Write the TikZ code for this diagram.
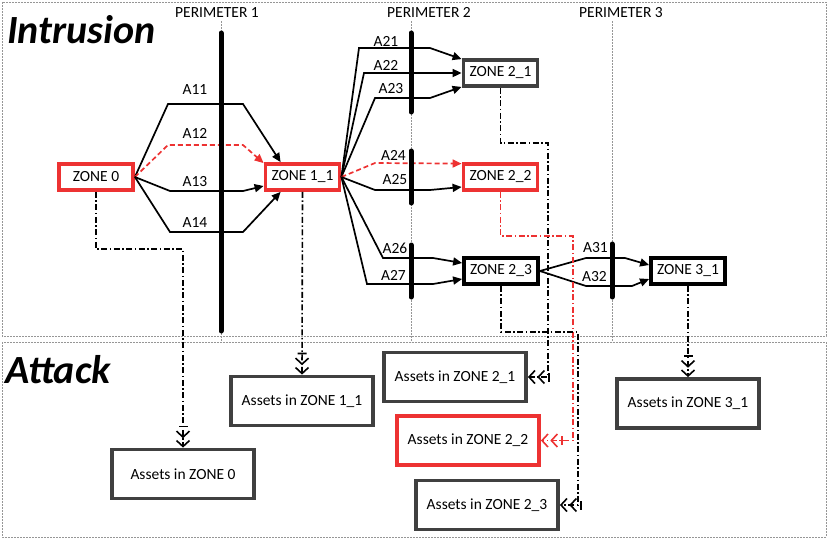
\documentclass[tikz,border=0pt]{standalone}
\usepackage{fontspec}
\setmainfont{Carlito}
\usetikzlibrary{arrows.meta,calc,shadows}
\definecolor{zred}{RGB}{237,50,50}
\definecolor{zgray}{RGB}{64,64,64}
\definecolor{fgray}{RGB}{150,150,150}
\begin{document}
\begin{tikzpicture}[x=1pt,y=-1pt,
  txt/.style={font=\fontsize{15.5}{18}\selectfont, inner sep=0pt},
  title/.style={font=\fontsize{40}{44}\selectfont\bfseries\itshape, inner sep=0pt, anchor=base west},
  zonebox/.style={draw, line width=3.8pt, fill=white, minimum width=74pt, minimum height=26pt, inner sep=0pt,
    font=\fontsize{15.5}{18}\selectfont, drop shadow={shadow xshift=1.5pt,shadow yshift=-1.5pt,opacity=0.25}},
  assetbox/.style={zonebox, draw=zgray, minimum width=142pt, minimum height=49pt},
  intr/.style={line width=1.7pt, -{Triangle[length=9pt,width=8pt]}},
  reddash/.style={intr, draw=zred, dash pattern=on 5pt off 3pt},
  att/.style={line width=1.6pt, dash pattern=on 6pt off 2.5pt on 1.5pt off 2.5pt,
    -{Bar[width=9pt,sep=3pt] Straight Barb[length=6pt,width=13pt,sep=1.5pt] Straight Barb[length=6pt,width=13pt]}},
  frame/.style={draw=fgray, line width=0.7pt, dash pattern=on 2pt off 1pt},
  barrier/.style={line width=5pt, line cap=round},
]
\useasboundingbox (0,0) rectangle (828,539);
% frames
\draw[frame] (2,2) rectangle (826,336);
\draw[frame] (2,342) rectangle (826,537);
% perimeter lines
\coordinate (p1t) at (221,21); \coordinate (p1b) at (221,342);
\coordinate (p2t) at (411,21); \coordinate (p2b) at (411,342);
\coordinate (p3t) at (612,21); \coordinate (p3b) at (612,342);
\draw[frame] (p1t) -- (p1b);
\draw[frame] (p2t) -- (p2b);
\draw[frame] (p3t) -- (p3b);
\node[txt, anchor=base] (per1) at (217,17.5) {PERIMETER 1};
\node[txt, anchor=base] (per2) at (429,17.5) {PERIMETER 2};
\node[txt, anchor=base] (per3) at (621,17.5) {PERIMETER 3};
% titles
\node[title] (tintr) at (7,43) {Intrusion};
\node[title] (tatt) at (5,383) {Attack};
% zones
\node[zonebox, draw=zred] (z0) at (96,177) {ZONE 0};
\node[zonebox, draw=zred] (z11) at (302.5,177) {ZONE 1\_1};
\node[zonebox, draw=zgray] (z21) at (500.5,73) {ZONE 2\_1};
\node[zonebox, draw=zred] (z22) at (500.5,177) {ZONE 2\_2};
\node[zonebox, draw=black] (z23) at (501,271) {ZONE 2\_3};
\node[zonebox, draw=black] (z31) at (688,271) {ZONE 3\_1};
% assets
\node[assetbox] (a0) at (183,474) {Assets in ZONE 0};
\node[assetbox] (a11) at (302,401) {Assets in ZONE 1\_1};
\node[assetbox] (a21) at (455,377) {Assets in ZONE 2\_1};
\node[assetbox, draw=zred] (a22) at (468,440.5) {Assets in ZONE 2\_2};
\node[assetbox] (a23) at (487,505) {Assets in ZONE 2\_3};
\node[assetbox] (a31) at (688,403.5) {Assets in ZONE 3\_1};
% intrusion paths zone 0 -> zone 1_1
\draw[intr] (z0.east) -- (168,104) -- (243,104) -- ([xshift=17pt]z11.north west);
\draw[reddash] (z0.east) -- (168,145) -- (243,145) -- ([yshift=-1pt]z11.north west);
\draw[intr] (z0.east) -- (170,191) -- (243,191) -- ([yshift=-9pt]z11.west);
\draw[intr] (z0.east) -- (170,232) -- (243,232) -- ([xshift=17pt]z11.south west);
% zone 1_1 -> zone 2_x
\draw[intr] (z11.east) -- (359,48) -- (430,48) -- ([yshift=-1pt]z21.north west);
\draw[intr] (z11.east) -- (364,73) -- (z21.west);
\draw[intr] (z11.east) -- (375,98) -- (430,98) -- ([yshift=1pt]z21.south west);
\draw[reddash] (z11.east) -- (375,163) -- ([yshift=-1.5pt]z22.north west);
\draw[intr] (z11.east) -- (375,190) -- (430,190) -- ([yshift=-10pt]z22.west);
\draw[intr] (z11.east) -- (383,258) -- (433,258) -- ([yshift=8pt]z23.west);
\draw[intr] (z11.east) -- (367,284) -- (433,284) -- ([yshift=-8pt]z23.west);
% zone 2_3 -> zone 3_1
\draw[intr] (z23.east) -- (586,258) -- (625,258) -- ([yshift=6pt]z31.west);
\draw[intr] (z23.east) -- (586,286) -- (632,286) -- ([yshift=-8pt]z31.west);
% barriers
\draw[barrier] (221,33) -- (221,331);
\draw[barrier] (411,33) -- (411,112);
\draw[barrier] (411,151) -- (411,203);
\draw[barrier] (411,245) -- (411,297);
\draw[barrier] (612,244) -- (612,297);
% attack paths
\coordinate (c0) at (183,249);
\coordinate (c21a) at (548,143); \coordinate (c21b) at (548,377);
\coordinate (c22a) at (573,236); \coordinate (c22b) at (573,440.5);
\coordinate (c23a) at (578,332); \coordinate (c23b) at (578,505);
\draw[att] (z0.south) |- (c0) -- (a0.north);
\draw[att] (z11.south) -- (a11.north);
\draw[att] (z21.south) |- (c21a) -- (c21b) -- (a21.east);
\draw[att, draw=zred] (z22.south) |- (c22a) -- (c22b) -- (a22.east);
\draw[att] (z23.south) |- (c23a) -- (c23b) -- (a23.east);
\draw[att] (z31.south) -- (a31.north);
% labels
\node[txt] (l11) at (195,90) {A11};
\node[txt] (l12) at (195,133) {A12};
\node[txt] (l13) at (195,182) {A13};
\node[txt] (l14) at (195,223) {A14};
\node[txt] (l21) at (386,41) {A21};
\node[txt] (l22) at (386,65) {A22};
\node[txt] (l23) at (391,89) {A23};
\node[txt] (l24) at (393.5,155) {A24};
\node[txt] (l25) at (395,180) {A25};
\node[txt] (l26) at (395,248) {A26};
\node[txt] (l27) at (393.5,275) {A27};
\node[txt] (l31) at (595.5,248) {A31};
\node[txt] (l32) at (594.5,277) {A32};
\end{tikzpicture}
\end{document}
